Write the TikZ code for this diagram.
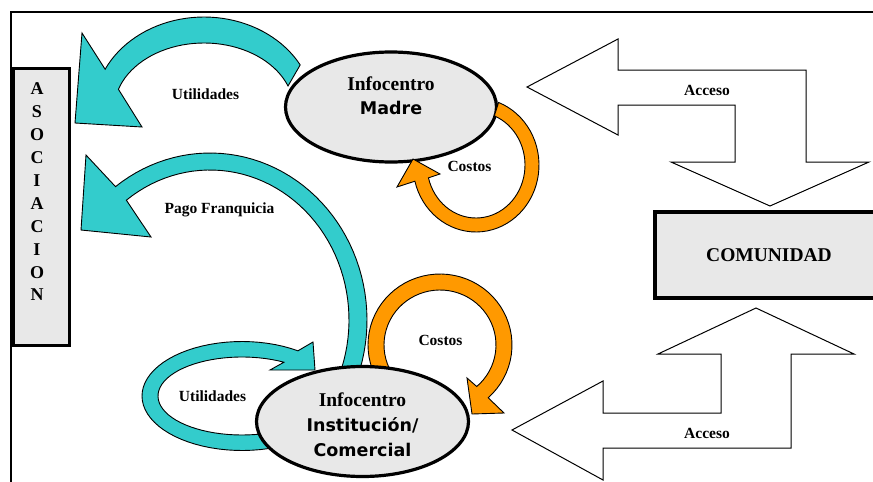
\documentclass[tikz,border=0pt]{standalone}
\usepackage{fontspec}
\setmainfont{Liberation Serif}
\newfontfamily\sansnegra{DejaVu Sans Bold}
\usepackage{xcolor}
\usepackage{tikz}
\usetikzlibrary{arrows.meta,positioning,shapes.geometric,calc}
\definecolor{Turquesa}{HTML}{33CCCC}
\definecolor{Naranja}{HTML}{FF9900}
\definecolor{GrisClaro}{HTML}{E8E8E8}

\begin{document}
\begin{tikzpicture}[
    x=1pt, y=-1pt,
    % textos de las flechas
    lbl/.style={font=\fontsize{15.5}{17}\selectfont\bfseries, inner sep=0pt, anchor=base},
    titulo/.style={font=\fontsize{19.5}{24.5}\selectfont\bfseries, align=center, inner sep=0pt},
    nodo/.style={ellipse, draw=black, line width=3.2pt, fill=GrisClaro, minimum width=211, minimum height=110, inner sep=0pt},
    caja/.style={rectangle, draw=black, line width=3pt, fill=GrisClaro, inner sep=0pt},
    flujo/.style={draw=black, line width=0.9pt, fill=Turquesa},
    gasto/.style={draw=black, line width=0.9pt, fill=Naranja},
    acceso/.style={draw=black, line width=1pt, fill=white}
]
\useasboundingbox (0,0) rectangle (873,482);

% marco de la pagina
\draw[line width=1.6pt] (11,482) |- (873,12);

% bloques laterales
\node[caja, minimum width=56, minimum height=277] (asoc) at (41.7,206.5) {};
\node[titulo, font=\fontsize{18}{22.9}\selectfont\bfseries] (asoctxt) at (37,192) {A\\S\\O\\C\\I\\A\\C\\I\\O\\N};
\node[caja, line width=3.5pt, minimum width=228, minimum height=86, titulo] (comunidad) at (769,255) {COMUNIDAD};

% flechas de acceso (comunidad <-> infocentros)
\draw[acceso] (527,87) -- (618,39) -- (618,70) -- (806,70) -- (806,162) -- (869,162) -- (770,206)
  -- (671,162) -- (735,162) -- (735,105) -- (618,105) -- (618,135) -- cycle;
\draw[acceso] (512,430) -- (603,381) -- (603,413) -- (721,413) -- (721,354) -- (658,354) -- (756,308)
  -- (854,354) -- (791,354) -- (791,448) -- (603,448) -- (603,480) -- cycle;

% flechas curvas bajo los infocentros
\draw[flujo] plot[domain=-29:-154, samples=40] ({204+110*cos(\x)}, {110+93*sin(\x)})
  -- (82,33) -- (75,123) -- (142,127)
  -- plot[domain=-162:-21, samples=40] ({204+90*cos(\x)}, {110+67*sin(\x)}) -- cycle;
\draw[flujo] plot[domain=17:-127, samples=50] ({210+157*cos(\x)}, {320+167*sin(\x)})
  -- (86,155) -- (81,230) -- (151,237)
  -- plot[domain=-127:19, samples=50] ({210+139*cos(\x)}, {320+150*sin(\x)}) -- cycle;
\draw[flujo] plot[domain=70:304, samples=50] ({242+100*cos(\x)}, {396+54.5*sin(\x)})
  -- (313,342) -- (315,370) -- (270,370)
  -- plot[domain=300:72, samples=50] ({242+84*cos(\x)}, {396+39*sin(\x)}) -- cycle;
\draw[gasto] plot[domain=160:408, samples=50] ({440+72*cos(\x)}, {345+71*sin(\x)})
  -- (504,413) -- (472,414) -- (467,378)
  -- plot[domain=409:155, samples=50] ({440+56*cos(\x)}, {345+55*sin(\x)}) -- cycle;

% infocentros
\node[nodo] (madre) at (391,107) {};
\node[nodo, minimum width=212] (inst) at (362.5,421.5) {};
\node[titulo] (madretxt) at (391,96) {Infocentro\\{\sansnegra\fontsize{17.5}{24.5}\selectfont Madre}};
\node[titulo, font=\fontsize{19.5}{25}\selectfont\bfseries] (insttxt) at (362.5,425) {Infocentro\\{\sansnegra\fontsize{17.5}{25}\selectfont Instituci\'on/}\\{\sansnegra\fontsize{17.5}{25}\selectfont Comercial}};

% costos del infocentro madre
\draw[gasto] plot[domain=-69:166, samples=50] ({476+63*cos(\x)}, {165+67*sin(\x)})
  -- (397,187) -- (413,159) -- (440,174)
  -- plot[domain=166:-68, samples=50] ({476+49*cos(\x)}, {165+53*sin(\x)}) -- cycle;

% etiquetas
\node[lbl] (utilmadre) at (205.5,99) {Utilidades};
\node[lbl] (pago) at (219.5,213) {Pago Franquicia};
\node[lbl] (utilinst) at (212.5,401.5) {Utilidades};
\node[lbl] (costmadre) at (469.5,171.5) {Costos};
\node[lbl] (costinst) at (440.5,345) {Costos};
\node[lbl] (accmadre) at (707,95) {Acceso};
\node[lbl] (accinst) at (707,438) {Acceso};

\end{tikzpicture}
\end{document}
